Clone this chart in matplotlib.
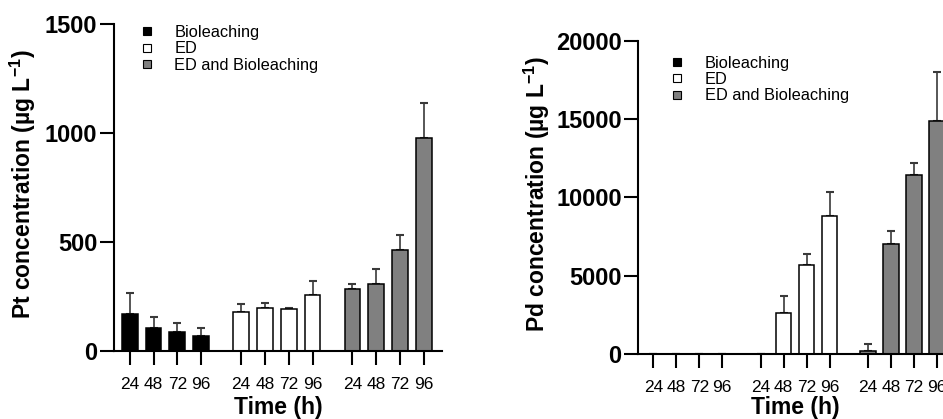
import numpy as np
import matplotlib
matplotlib.use('Agg')
import matplotlib.pyplot as plt
from matplotlib.lines import Line2D

plt.rcParams['font.family'] = ['Liberation Sans', 'DejaVu Sans']
plt.rcParams['mathtext.fontset'] = 'custom'
plt.rcParams['mathtext.rm'] = 'Liberation Sans'
plt.rcParams['mathtext.bf'] = 'Liberation Sans:bold'

# 数据
groups = ['Bioleaching', 'ED', 'ED and Bioleaching']
times = ['24', '48', '72', '96']

pt_mean = [[168, 104, 84, 67],
           [179, 195, 190, 257],
           [282, 308, 464, 975]]
pt_err = [[98, 51, 45, 37],
          [34, 23, 7, 64],
          [23, 66, 66, 162]]

pd_mean = [[0, 0, 0, 0],
           [0, 2637, 5662, 8809],
           [213, 7022, 11405, 14895]]
pd_err = [[0, 0, 0, 0],
          [0, 1046, 741, 1552],
          [447, 850, 788, 3088]]

colors = ['black', 'white', '#808080']
edge = 'black'
err_color = '#3a3a3a'
group_step = 4.68
bar_w = 0.67


def draw_panel(ax, means, errs, ymax, yticks, ylabel, leg_anchor):
    pos_all = []
    for g in range(3):
        pos = np.arange(4) + g * group_step
        pos_all.extend(pos)
        m = np.array(means[g], dtype=float)
        e = np.array(errs[g], dtype=float)
        ax.errorbar(pos, m, yerr=[np.zeros(4), e], fmt='none', ecolor=err_color,
                    elinewidth=1.2, capsize=2.6, capthick=1.5, zorder=1)
        ax.bar(pos, m, width=bar_w, color=colors[g], edgecolor=edge,
               linewidth=1.1, zorder=2)
    ax.set_xlim(-0.66, 13.12)
    ax.set_ylim(0, ymax)
    ax.set_yticks(yticks)
    ax.set_yticklabels([str(t) for t in yticks], fontweight='bold', fontsize=17)
    ax.set_xticks(pos_all)
    ax.set_xticklabels(times * 3, fontsize=12.5)
    ax.tick_params(axis='both', direction='out', length=10, width=1.5)
    ax.tick_params(axis='y', pad=2)
    ax.tick_params(axis='x', pad=9)
    for s in ['top', 'right']:
        ax.spines[s].set_visible(False)
    for s in ['left', 'bottom']:
        ax.spines[s].set_linewidth(1.5)
    ax.set_xlabel('Time (h)', fontweight='bold', fontsize=16.5, va='top')
    ax.set_ylabel(ylabel, fontweight='bold', fontsize=16.5)
    handles = [Line2D([], [], linestyle='none', marker='s', markersize=6,
                      markerfacecolor=c, markeredgecolor='black', markeredgewidth=0.8)
               for c in colors]
    ax.legend(handles, groups, loc='upper left', bbox_to_anchor=leg_anchor,
              frameon=False, fontsize=11.8, handlelength=1.0, handletextpad=1.15,
              borderpad=0, borderaxespad=0, labelspacing=0.08)


fig = plt.figure(figsize=(9.43, 4.19), dpi=100)
ax1 = fig.add_axes([0.1209, 0.163, 0.3478, 0.7797])
ax2 = fig.add_axes([0.6769, 0.1551, 0.3351, 0.7478])

draw_panel(ax1, pt_mean, pt_err, 1500, [0, 500, 1000, 1500],
           r'Pt concentration (µg L$^{\mathbf{-1}}$)', (0.077, 0.997))
draw_panel(ax2, pd_mean, pd_err, 20000, [0, 5000, 10000, 15000, 20000],
           r'Pd concentration (µg L$^{\mathbf{-1}}$)', (0.098, 0.952))

ax1.xaxis.set_label_coords(0.5, -0.138)
ax2.xaxis.set_label_coords(0.497, -0.133)
ax1.yaxis.set_label_coords(-0.232, 0.51)
ax2.yaxis.set_label_coords(-0.273, 0.51)

fig.savefig('out.png', dpi=100)
